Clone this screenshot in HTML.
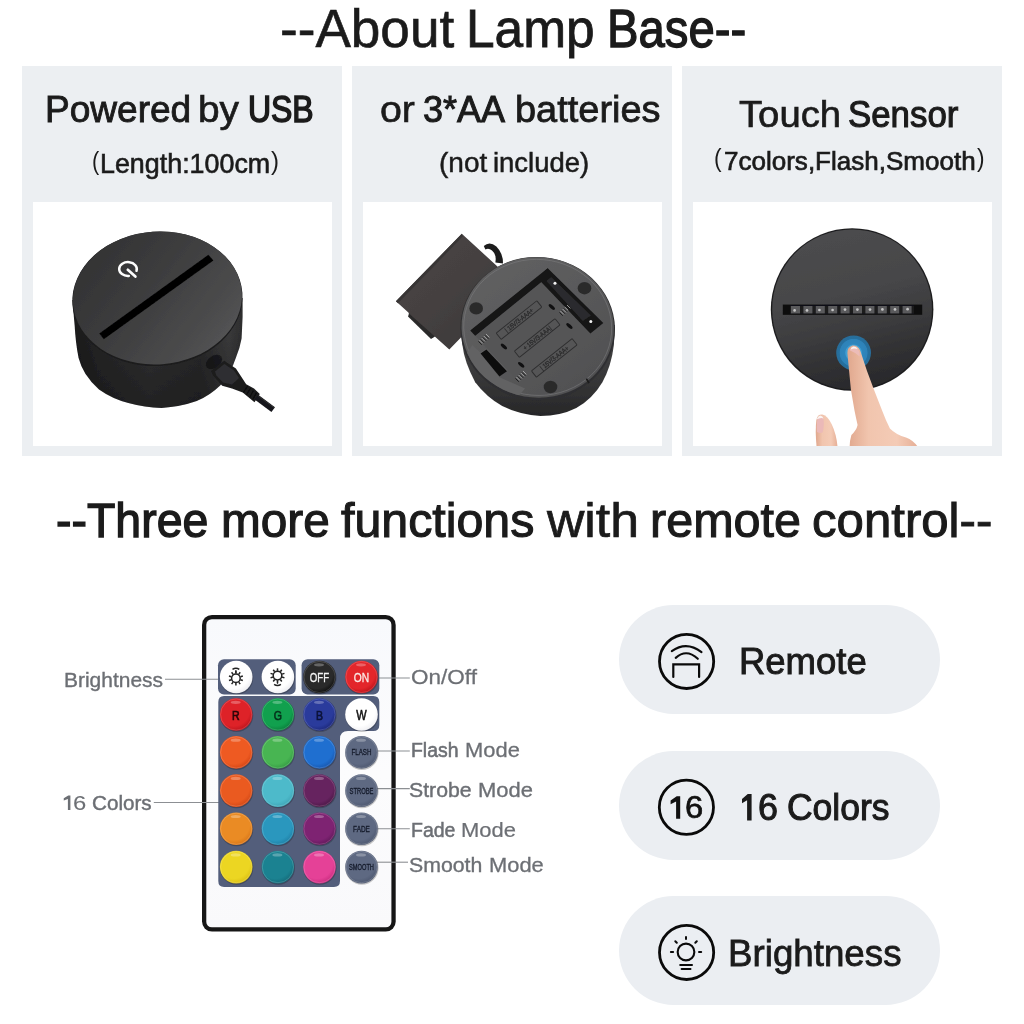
<!DOCTYPE html>
<html lang="en">
<head>
<meta charset="utf-8">
<title>About Lamp Base</title>
<style>
html,body{margin:0;padding:0;background:#fff;}
body{width:1024px;height:1024px;position:relative;overflow:hidden;font-family:"Liberation Sans",sans-serif;}
.t{position:absolute;white-space:pre;transform-origin:0 0;font-family:"Liberation Sans",sans-serif;font-weight:400;}
.panel{position:absolute;top:66px;height:389.5px;background:#eceff2;}
.photo{position:absolute;top:136px;height:244px;background:#fff;overflow:hidden;}
.pill{position:absolute;left:619.25px;width:320.5px;height:109px;border-radius:54.5px;background:#ebeef2;}
svg{position:absolute;left:0;top:0;overflow:visible;will-change:transform;}
</style>
</head>
<body>
<div class="panel" style="left:22px;width:319.5px"><div class="photo" style="left:11px;width:299.25px"><svg width="299.25" height="244" viewBox="33 202 299.25 244">
<defs>
<linearGradient id="p1side" x1="0" y1="0" x2="1" y2="0"><stop offset="0" stop-color="#19191a"/><stop offset="0.15" stop-color="#252526"/><stop offset="0.45" stop-color="#303031"/><stop offset="0.75" stop-color="#29292a"/><stop offset="0.92" stop-color="#3a3a3b"/><stop offset="1" stop-color="#2c2c2d"/></linearGradient>
<linearGradient id="p1top" x1="0" y1="0.15" x2="1" y2="0.85"><stop offset="0" stop-color="#313132"/><stop offset="0.4" stop-color="#3c3c3d"/><stop offset="0.75" stop-color="#4a4a4b"/><stop offset="1" stop-color="#575758"/></linearGradient>
<filter id="p1blur" x="-20%" y="-20%" width="140%" height="140%"><feGaussianBlur stdDeviation="0.6"/></filter>
<filter id="p1blur2" x="-20%" y="-20%" width="140%" height="140%"><feGaussianBlur stdDeviation="0.35"/></filter>
<linearGradient id="p1shade" gradientUnits="userSpaceOnUse" x1="0" y1="330" x2="0" y2="410"><stop offset="0" stop-color="#000" stop-opacity="0"/><stop offset="1" stop-color="#000" stop-opacity="0.3"/></linearGradient>
</defs>
<g filter="url(#p1blur)">
<!-- cylinder side -->
<path d="M72.4 300 L74.6 324.9 Q75.6 343 78.6 358.1 Q81 367 85.4 373.8 Q91 382.6 99 389.4 Q112 398.6 128.4 403 Q145 407.6 161.6 407.9 Q180 407 196.7 401.1 Q210 395.4 220.2 385.5 Q231 373 235.8 358.1 Q240 348 241.6 338.6 L242.6 317.1 L242.6 298 Z" fill="url(#p1side)"/>
<path d="M72.4 300 L74.6 324.9 Q75.6 343 78.6 358.1 Q81 367 85.4 373.8 Q91 382.6 99 389.4 Q112 398.6 128.4 403 Q145 407.6 161.6 407.9 Q180 407 196.7 401.1 Q210 395.4 220.2 385.5 Q231 373 235.8 358.1 Q240 348 241.6 338.6 L242.6 317.1 L242.6 298 Z" fill="url(#p1shade)"/>
<!-- top face -->
<ellipse cx="157.4" cy="298.8" rx="85.2" ry="67.2" transform="rotate(-4 157.4 298.8)" fill="#1d1d1e"/>
<ellipse cx="157.4" cy="297.9" rx="84.6" ry="66.4" transform="rotate(-4 157.4 297.9)" fill="url(#p1top)"/>
<!-- slot -->
<polygon points="99.3,333.4 103.8,339.2 213.4,260.6 208.4,254.8" fill="#050505"/>
<!-- usb plug -->
<ellipse cx="214" cy="362" rx="9" ry="6" fill="#0c0c0d" opacity="0.6" transform="rotate(-35 214 362)"/>
<polygon points="211,371 224.2,360.8 235.9,368.6 240.8,375.9 246.2,384.2 254,388.6 259.8,394 254.5,402.3 242.7,392.5 232,388.6 222.2,385.7 213.4,375.9" fill="#1c1c1e"/>
<polygon points="215,371.4 224.4,364 234,370.4 239,378 232,384.6 223,382.6 216.4,375.6" fill="#2f2f31"/>
<path d="M247.4 386.2 L243.6 392.4 M250.4 388.2 L246.6 394.8 M253.4 390.4 L249.8 397.2 M256.4 392.8 L252.8 399.6" stroke="#070708" stroke-width="1.1" fill="none"/>
<path d="M256.4 397.2 L273.2 409.6" stroke="#19191b" stroke-width="6" stroke-linecap="butt" fill="none"/>
<path d="M257.8 395.6 L274 407.6" stroke="#3a3a3c" stroke-width="1" fill="none" opacity="0.7"/>
</g>
<!-- power icon -->
<g filter="url(#p1blur2)">
<path d="M136.5 270.8 A8.8 6.9 0 1 0 128.8 275.9" fill="none" stroke="#fdfdfd" stroke-width="2.5" stroke-linecap="round"/>
<path d="M127.8 269.8 L135.4 276.6" stroke="#fdfdfd" stroke-width="2.7" stroke-linecap="round" fill="none"/>
</g>
</svg>
</div></div>
<div class="panel" style="left:352px;width:320px"><div class="photo" style="left:10.6px;width:299.4px"><svg width="299.4" height="244" viewBox="362.6 202 299.4 244">
<defs>
<linearGradient id="p2cover" x1="0" y1="0" x2="1" y2="1"><stop offset="0" stop-color="#4a4646"/><stop offset="0.5" stop-color="#444040"/><stop offset="1" stop-color="#393636"/></linearGradient>
<linearGradient id="p2side" x1="0" y1="0" x2="0" y2="1"><stop offset="0" stop-color="#444445"/><stop offset="0.55" stop-color="#39393a"/><stop offset="1" stop-color="#272728"/></linearGradient>
<linearGradient id="p2face" x1="0" y1="0" x2="1" y2="1"><stop offset="0" stop-color="#626263"/><stop offset="0.5" stop-color="#59595a"/><stop offset="1" stop-color="#4d4d4f"/></linearGradient>
<filter id="p2blur" x="-20%" y="-20%" width="140%" height="140%"><feGaussianBlur stdDeviation="0.55"/></filter>
<clipPath id="p2clip"><ellipse cx="537.3" cy="327.4" rx="76.2" ry="70.2" transform="rotate(5 537.3 327.4)"/></clipPath>
</defs>
<g filter="url(#p2blur)">
<!-- hinge tab -->
<path d="M483.4 246 Q489 240.6 496 246.4 Q503 253.6 502.6 263.6 L495 262.4 Q496.4 254.6 491.6 250.4 Q488 247.6 485 249.6 Z" fill="#1c1c1c"/>
<!-- battery cover -->
<polygon points="461.4,233.8 395.5,301.3 408,312.4 409.5,316.3 431.6,338 434.4,336.4 448.9,349.4 514.2,282.3" fill="url(#p2cover)"/>
<polygon points="461.4,233.8 395.5,301.3 397.6,303.2 462.4,236.6" fill="#393636"/>
<polygon points="408.6,313.4 407.6,316.6 430.6,339 434.4,336.4" fill="#2b2929"/>
<!-- base side -->
<path d="M460.6 322 L462 345 Q464 362 474.8 382.2 Q486 397 501.8 406 Q519 414.6 540 416 Q560 416 575.9 408 Q592 399 602 382.2 Q611 366 613.5 345 L614.4 325 Z" fill="url(#p2side)"/>
<!-- face -->
<ellipse cx="537.3" cy="328.6" rx="77.4" ry="71.6" transform="rotate(5 537.3 328.6)" fill="#2f2f30"/>
<ellipse cx="537.3" cy="327.4" rx="76.2" ry="70.2" transform="rotate(5 537.3 327.4)" fill="url(#p2face)"/>
<ellipse cx="537.3" cy="327.4" rx="74" ry="68" transform="rotate(5 537.3 327.4)" fill="none" stroke="#7c7c7d" stroke-width="0.8" opacity="0.7"/>
<!-- compartment -->
<polygon points="547.3,268.3 469.9,330.5 524.7,388.6 602.9,323.1" fill="#555556"/>
<!-- top-left wall -->
<polygon points="547.3,268.3 469.9,330.5 474.8,335.8 550.2,274.4" fill="#131314"/>
<!-- top-right wall -->
<polygon points="547.3,268.3 602.9,323.1 590,333.6 538.4,279.4" fill="#141415"/>
<polygon points="550.8,277 546,281 582.4,321 590.6,315.4" fill="#2c2c2d"/>
<!-- latch area -->
<polygon clip-path="url(#p2clip)" points="472,345 480,352.6 486,348.4 507,370.5 498.5,377 524.7,388.6 519,395 497,398 470,385 460,362" fill="#626263"/>
<polygon points="480.2,353.6 486,349.4 506.6,371.2 499,376.4" fill="#0d0d0e"/>
<!-- pads -->
<ellipse cx="475.8" cy="308.4" rx="6.8" ry="6.2" fill="#2b2b2c"/>
<ellipse cx="584.1" cy="288.2" rx="6.8" ry="6.2" fill="#2b2b2c"/>
<ellipse cx="550.1" cy="387" rx="6.8" ry="6.2" fill="#2b2b2c"/>
<path d="M586 378.6 L588.6 383" stroke="#1a1a1b" stroke-width="1.6"/>
</g>
<!-- battery label outlines -->
<g fill="none" stroke="#2e2e2f" stroke-width="0.95">
<rect x="-26" y="-4" width="52" height="8" rx="0.8" transform="translate(518.6 320.1) rotate(-38.6)"/>
<rect x="-26" y="-4" width="52" height="8" rx="0.8" transform="translate(536.8 338) rotate(-38.6)"/>
<rect x="-26" y="-4" width="52" height="8" rx="0.8" transform="translate(553.9 357.9) rotate(-38.6)"/>
</g>
<g font-family="Liberation Sans, sans-serif" font-size="6.6" fill="#2a2a2b" stroke="#2a2a2b" stroke-width="0.25" text-anchor="middle">
<text transform="translate(520.1 322) rotate(-38.6) scale(0.86 1)">| 15V/3-AAA+</text>
<text transform="translate(538.3 339.9) rotate(-38.6) scale(0.86 1)">+ 15V/3-AAA|</text>
<text transform="translate(555.4 359.8) rotate(-38.6) scale(0.86 1)">| 15V/3-AAA+</text>
</g>
<!-- springs / contacts -->
<g stroke="#b5b5b6" stroke-width="0.9" fill="none" opacity="0.9">
<path d="M479 340 l3.4 3.4 m-1.2 -5.4 l3.4 3.4 m-1.2 -5.4 l3.4 3.4 m-1.2 -5.4 l3.4 3.4"/>
<path d="M516 377 l3.4 3.4 m-1.2 -5.4 l3.4 3.4 m-1.2 -5.4 l3.4 3.4 m-1.2 -5.4 l3.4 3.4"/>
<path d="M560 311 l3.4 3.4 m-1.2 -5.4 l3.4 3.4 m-1.2 -5.4 l3.4 3.4 m-1.2 -5.4 l3.4 3.4"/>
</g>
<g stroke="#1a1a1b" stroke-width="0.9" fill="none">
<path d="M478 341.4 l3.4 3.4 m-1.2 -5.4 l3.4 3.4 m-1.2 -5.4 l3.4 3.4 m-1.2 -5.4 l3.4 3.4"/>
<path d="M515 378.4 l3.4 3.4 m-1.2 -5.4 l3.4 3.4 m-1.2 -5.4 l3.4 3.4 m-1.2 -5.4 l3.4 3.4"/>
<path d="M559 312.4 l3.4 3.4 m-1.2 -5.4 l3.4 3.4 m-1.2 -5.4 l3.4 3.4 m-1.2 -5.4 l3.4 3.4"/>
</g>
<g fill="#101011">
<ellipse cx="503.5" cy="346.5" rx="3.8" ry="1.7" transform="rotate(40 503.5 346.5)"/>
<ellipse cx="520.8" cy="364.8" rx="3.8" ry="1.7" transform="rotate(40 520.8 364.8)"/>
<ellipse cx="551.4" cy="307" rx="3.8" ry="1.7" transform="rotate(40 551.4 307)"/>
<ellipse cx="569" cy="326" rx="3.8" ry="1.7" transform="rotate(40 569 326)"/>
</g>
<circle cx="554.6" cy="283.2" r="1.5" fill="#f4f4f4"/>
<circle cx="590.4" cy="321.4" r="1.5" fill="#f4f4f4"/>
</svg>
</div></div>
<div class="panel" style="left:682px;width:320px"><div class="photo" style="left:11px;width:299px"><svg width="299" height="244" viewBox="693 202 299 244">
<defs>
<linearGradient id="p3disc" x1="0.35" y1="0" x2="0.6" y2="1"><stop offset="0" stop-color="#4c4c4e"/><stop offset="0.4" stop-color="#464648"/><stop offset="0.62" stop-color="#3c3c3e"/><stop offset="0.82" stop-color="#303032"/><stop offset="1" stop-color="#29292b"/></linearGradient>
<radialGradient id="p3btn" cx="0.5" cy="0.5" r="0.5"><stop offset="0" stop-color="#4fb0e0"/><stop offset="0.45" stop-color="#3f9fd4"/><stop offset="0.5" stop-color="#2f86bd"/><stop offset="0.78" stop-color="#2d82b8"/><stop offset="0.82" stop-color="#256f9f"/><stop offset="1" stop-color="#2a6d98"/></radialGradient>
<linearGradient id="p3skin" x1="0" y1="0" x2="1" y2="0"><stop offset="0" stop-color="#e0a78d"/><stop offset="0.3" stop-color="#f1c5ae"/><stop offset="0.7" stop-color="#f4cbb6"/><stop offset="1" stop-color="#e5ae95"/></linearGradient>
<filter id="p3blur" x="-20%" y="-20%" width="140%" height="140%"><feGaussianBlur stdDeviation="0.6"/></filter>
</defs>
<g filter="url(#p3blur)">
<circle cx="852.1" cy="309.5" r="81.3" fill="#1d1d1f"/>
<circle cx="852.1" cy="309.3" r="79.9" fill="url(#p3disc)"/>
<!-- led slot -->
<rect x="782.8" y="304.6" width="139.4" height="10.2" fill="#0b0b0c"/>
<rect x="790" y="305.6" width="124" height="8.2" fill="#1c1c1e"/>
<g fill="#5a5a5c">
<rect x="791" y="306" width="9" height="7.4"/><rect x="803.4" y="306" width="9" height="7.4"/><rect x="815.8" y="306" width="9" height="7.4"/><rect x="828.2" y="306" width="9" height="7.4"/><rect x="840.6" y="306" width="9" height="7.4"/><rect x="853" y="306" width="9" height="7.4"/><rect x="865.4" y="306" width="9" height="7.4"/><rect x="877.8" y="306" width="9" height="7.4"/><rect x="890.2" y="306" width="9" height="7.4"/><rect x="902.6" y="306" width="9" height="7.4"/>
</g>
<g fill="#c4c4c4">
<circle cx="794.6" cy="310.4" r="1.35"/><circle cx="807" cy="310.4" r="1.35"/><circle cx="819.4" cy="310" r="1.35"/><circle cx="832.6" cy="310" r="1.35"/><circle cx="845" cy="309.6" r="1.35"/><circle cx="857.4" cy="309.6" r="1.35"/><circle cx="870" cy="309.6" r="1.35"/><circle cx="882.4" cy="309.4" r="1.35"/><circle cx="895" cy="309.4" r="1.35"/><circle cx="907.6" cy="309.2" r="1.35"/>
</g>
<!-- blue touch button -->
<circle cx="853.6" cy="352.8" r="17.4" fill="url(#p3btn)"/>
<!-- finger shadow -->
<path d="M850.5 352 Q848 362 852 380 L860 420 L872 420 Z" fill="#000" opacity="0.18"/>
<!-- index finger -->
<path d="M847.4 353 Q847 347.4 852.4 345.6 Q857.6 345 860.2 350.4 L867 371 L873.9 389.4 L881.9 410 Q886 421 889.9 428.4 Q896 434.6 906 437.5 Q913 440 918 447 L849.6 447 Q849.8 440 851.4 435 Q856.6 430 857.6 425 Q856 418 854.4 410 L850.9 389.4 L849.1 371 Z" fill="url(#p3skin)"/>
<!-- nail -->
<path d="M850 350.6 Q850.4 346.6 853.8 346.4 Q857.2 347 859.2 351.6 Q860.2 354.6 859.6 356.6 Q855 352.4 850 350.6 Z" fill="#ecbcb8"/>
<path d="M850.6 349.4 Q851 346.8 853.8 346.4 Q856.4 346.8 857.8 349 Q854 347.6 850.6 349.4 Z" fill="#fbf3f1"/>
<!-- thumb -->
<path d="M816.6 447 Q815 430 816.4 420 Q817.4 414.4 822.4 414.6 Q827.6 416 831.6 424 Q836.4 434 837.6 447 Z" fill="url(#p3skin)"/>
<path d="M817 432 Q816 421 818.4 417.4 Q821.4 414.6 823.4 418.6 Q824.6 425 822.6 432.6 Q819.6 433.4 817 432 Z" fill="#ebb9b8"/>
<path d="M816.8 419.6 Q817.6 416.2 820.4 415.6 Q822.6 416 823.6 418.4 Q820 417.4 816.8 419.6 Z" fill="#fbf3f1"/>
</g>
</svg>
</div></div>
<div class="pill" style="top:605.25px"></div>
<div class="pill" style="top:751.4px"></div>
<div class="pill" style="top:896.25px"></div>
<svg width="1024" height="1024" viewBox="0 0 1024 1024">
<defs>
<radialGradient id="b00" cx="0.42" cy="0.36" r="0.7"><stop offset="0" stop-color="#ffffff"/><stop offset="0.7" stop-color="#ffffff"/><stop offset="1" stop-color="#e9e9ee"/></radialGradient>
<radialGradient id="b01" cx="0.42" cy="0.36" r="0.7"><stop offset="0" stop-color="#ffffff"/><stop offset="0.7" stop-color="#ffffff"/><stop offset="1" stop-color="#e9e9ee"/></radialGradient>
<radialGradient id="b02" cx="0.42" cy="0.36" r="0.7"><stop offset="0" stop-color="#2a2a2a"/><stop offset="0.7" stop-color="#2a2a2a"/><stop offset="1" stop-color="#070707"/></radialGradient>
<radialGradient id="b03" cx="0.42" cy="0.36" r="0.7"><stop offset="0" stop-color="#e3262b"/><stop offset="0.7" stop-color="#e3262b"/><stop offset="1" stop-color="#b40d14"/></radialGradient>
<radialGradient id="b10" cx="0.42" cy="0.36" r="0.7"><stop offset="0" stop-color="#de2228"/><stop offset="0.7" stop-color="#de2228"/><stop offset="1" stop-color="#b20f18"/></radialGradient>
<radialGradient id="b11" cx="0.42" cy="0.36" r="0.7"><stop offset="0" stop-color="#11a04e"/><stop offset="0.7" stop-color="#11a04e"/><stop offset="1" stop-color="#087536"/></radialGradient>
<radialGradient id="b12" cx="0.42" cy="0.36" r="0.7"><stop offset="0" stop-color="#2a3b9c"/><stop offset="0.7" stop-color="#2a3b9c"/><stop offset="1" stop-color="#172270"/></radialGradient>
<radialGradient id="b13" cx="0.42" cy="0.36" r="0.7"><stop offset="0" stop-color="#ffffff"/><stop offset="0.7" stop-color="#ffffff"/><stop offset="1" stop-color="#ececf0"/></radialGradient>
<radialGradient id="b20" cx="0.42" cy="0.36" r="0.7"><stop offset="0" stop-color="#ee5a22"/><stop offset="0.7" stop-color="#ee5a22"/><stop offset="1" stop-color="#cf3f10"/></radialGradient>
<radialGradient id="b21" cx="0.42" cy="0.36" r="0.7"><stop offset="0" stop-color="#48b552"/><stop offset="0.7" stop-color="#48b552"/><stop offset="1" stop-color="#2f9440"/></radialGradient>
<radialGradient id="b22" cx="0.42" cy="0.36" r="0.7"><stop offset="0" stop-color="#1f6fd0"/><stop offset="0.7" stop-color="#1f6fd0"/><stop offset="1" stop-color="#154fa4"/></radialGradient>
<radialGradient id="b23" cx="0.42" cy="0.36" r="0.7"><stop offset="0" stop-color="#5e6982"/><stop offset="0.7" stop-color="#5e6982"/><stop offset="1" stop-color="#48526a"/></radialGradient>
<radialGradient id="b30" cx="0.42" cy="0.36" r="0.7"><stop offset="0" stop-color="#ea5a20"/><stop offset="0.7" stop-color="#ea5a20"/><stop offset="1" stop-color="#cc4312"/></radialGradient>
<radialGradient id="b31" cx="0.42" cy="0.36" r="0.7"><stop offset="0" stop-color="#4dbaca"/><stop offset="0.7" stop-color="#4dbaca"/><stop offset="1" stop-color="#3aa0b2"/></radialGradient>
<radialGradient id="b32" cx="0.42" cy="0.36" r="0.7"><stop offset="0" stop-color="#66235f"/><stop offset="0.7" stop-color="#66235f"/><stop offset="1" stop-color="#451440"/></radialGradient>
<radialGradient id="b33" cx="0.42" cy="0.36" r="0.7"><stop offset="0" stop-color="#5e6982"/><stop offset="0.7" stop-color="#5e6982"/><stop offset="1" stop-color="#48526a"/></radialGradient>
<radialGradient id="b40" cx="0.42" cy="0.36" r="0.7"><stop offset="0" stop-color="#ea8b24"/><stop offset="0.7" stop-color="#ea8b24"/><stop offset="1" stop-color="#d47014"/></radialGradient>
<radialGradient id="b41" cx="0.42" cy="0.36" r="0.7"><stop offset="0" stop-color="#2a97be"/><stop offset="0.7" stop-color="#2a97be"/><stop offset="1" stop-color="#1a7aa0"/></radialGradient>
<radialGradient id="b42" cx="0.42" cy="0.36" r="0.7"><stop offset="0" stop-color="#7e2372"/><stop offset="0.7" stop-color="#7e2372"/><stop offset="1" stop-color="#5a1654"/></radialGradient>
<radialGradient id="b43" cx="0.42" cy="0.36" r="0.7"><stop offset="0" stop-color="#5e6982"/><stop offset="0.7" stop-color="#5e6982"/><stop offset="1" stop-color="#48526a"/></radialGradient>
<radialGradient id="b50" cx="0.42" cy="0.36" r="0.7"><stop offset="0" stop-color="#ecd622"/><stop offset="0.7" stop-color="#ecd622"/><stop offset="1" stop-color="#d6ba10"/></radialGradient>
<radialGradient id="b51" cx="0.42" cy="0.36" r="0.7"><stop offset="0" stop-color="#1b8291"/><stop offset="0.7" stop-color="#1b8291"/><stop offset="1" stop-color="#116574"/></radialGradient>
<radialGradient id="b52" cx="0.42" cy="0.36" r="0.7"><stop offset="0" stop-color="#e54197"/><stop offset="0.7" stop-color="#e54197"/><stop offset="1" stop-color="#c4277a"/></radialGradient>
<radialGradient id="b53" cx="0.42" cy="0.36" r="0.7"><stop offset="0" stop-color="#5e6982"/><stop offset="0.7" stop-color="#5e6982"/><stop offset="1" stop-color="#48526a"/></radialGradient>
<linearGradient id="rbody" x1="0" y1="0" x2="0" y2="1"><stop offset="0" stop-color="#f8f9fc"/><stop offset="0.5" stop-color="#fcfcfd"/><stop offset="1" stop-color="#f9f9fb"/></linearGradient>
</defs>
<rect x="202" y="614.9" width="193.7" height="316.7" rx="10" fill="#161616"/>
<rect x="206.3" y="619.2" width="185.1" height="308.1" rx="5.5" fill="url(#rbody)"/>
<g stroke="#8c8f93" stroke-width="1.1" fill="none">
<path d="M165 679.3 H219"/>
<path d="M153.8 802.5 H219"/>
<path d="M377 678 H409.8"/>
<path d="M376.8 751 H409.8"/>
<path d="M377 788.6 H409.8"/>
<path d="M377 828.7 H409.8"/>
<path d="M377 862.2 H408"/>
</g>
<rect x="218" y="659.2" width="77.7" height="35.2" rx="6" fill="#535e7b"/>
<rect x="301.6" y="659.2" width="77.7" height="35.2" rx="6" fill="#535e7b"/>
<path d="M224 696 H373.3 Q379.3 696 379.3 702 V725.1 Q379.3 731.1 373.3 731.1 H348 Q340 731.1 340 739.1 V881 Q340 886.9 334 886.9 H224 Q218.3 886.9 218.3 881 V702 Q218.3 696 224 696 Z" fill="#535e7b"/>
<circle cx="236.6" cy="677.9" r="16.7" fill="#000" opacity="0.22"/>
<circle cx="236.2" cy="677.0" r="16.3" fill="url(#b00)"/>
<circle cx="278.29999999999995" cy="677.9" r="16.7" fill="#000" opacity="0.22"/>
<circle cx="277.9" cy="677.0" r="16.3" fill="url(#b01)"/>
<circle cx="319.9" cy="677.9" r="16.7" fill="#000" opacity="0.22"/>
<circle cx="319.5" cy="677.0" r="16.3" fill="url(#b02)"/>
<circle cx="319.5" cy="677.0" r="15.600000000000001" fill="none" stroke="#fff" stroke-width="1" opacity="0.16"/>
<ellipse cx="319.0" cy="664.8" rx="5" ry="1.6" fill="#fff" opacity="0.28"/>
<circle cx="361.9" cy="677.9" r="16.7" fill="#000" opacity="0.22"/>
<circle cx="361.5" cy="677.0" r="16.3" fill="url(#b03)"/>
<circle cx="361.5" cy="677.0" r="15.600000000000001" fill="none" stroke="#fff" stroke-width="1" opacity="0.16"/>
<ellipse cx="361.0" cy="664.8" rx="5" ry="1.6" fill="#fff" opacity="0.28"/>
<circle cx="236.6" cy="715.4" r="16.7" fill="#000" opacity="0.22"/>
<circle cx="236.2" cy="714.5" r="16.3" fill="url(#b10)"/>
<circle cx="236.2" cy="714.5" r="15.600000000000001" fill="none" stroke="#fff" stroke-width="1" opacity="0.16"/>
<ellipse cx="235.7" cy="702.3" rx="5" ry="1.6" fill="#fff" opacity="0.28"/>
<circle cx="278.29999999999995" cy="715.4" r="16.7" fill="#000" opacity="0.22"/>
<circle cx="277.9" cy="714.5" r="16.3" fill="url(#b11)"/>
<circle cx="277.9" cy="714.5" r="15.600000000000001" fill="none" stroke="#fff" stroke-width="1" opacity="0.16"/>
<ellipse cx="277.4" cy="702.3" rx="5" ry="1.6" fill="#fff" opacity="0.28"/>
<circle cx="319.9" cy="715.4" r="16.7" fill="#000" opacity="0.22"/>
<circle cx="319.5" cy="714.5" r="16.3" fill="url(#b12)"/>
<circle cx="319.5" cy="714.5" r="15.600000000000001" fill="none" stroke="#fff" stroke-width="1" opacity="0.16"/>
<ellipse cx="319.0" cy="702.3" rx="5" ry="1.6" fill="#fff" opacity="0.28"/>
<circle cx="361.9" cy="715.4" r="16.7" fill="#000" opacity="0.22"/>
<circle cx="361.5" cy="714.5" r="16.3" fill="url(#b13)"/>
<circle cx="236.6" cy="753.3" r="16.7" fill="#000" opacity="0.22"/>
<circle cx="236.2" cy="752.4" r="16.3" fill="url(#b20)"/>
<circle cx="236.2" cy="752.4" r="15.600000000000001" fill="none" stroke="#fff" stroke-width="1" opacity="0.16"/>
<ellipse cx="235.7" cy="740.1999999999999" rx="5" ry="1.6" fill="#fff" opacity="0.28"/>
<circle cx="278.29999999999995" cy="753.3" r="16.7" fill="#000" opacity="0.22"/>
<circle cx="277.9" cy="752.4" r="16.3" fill="url(#b21)"/>
<circle cx="277.9" cy="752.4" r="15.600000000000001" fill="none" stroke="#fff" stroke-width="1" opacity="0.16"/>
<ellipse cx="277.4" cy="740.1999999999999" rx="5" ry="1.6" fill="#fff" opacity="0.28"/>
<circle cx="319.9" cy="753.3" r="16.7" fill="#000" opacity="0.22"/>
<circle cx="319.5" cy="752.4" r="16.3" fill="url(#b22)"/>
<circle cx="319.5" cy="752.4" r="15.600000000000001" fill="none" stroke="#fff" stroke-width="1" opacity="0.16"/>
<ellipse cx="319.0" cy="740.1999999999999" rx="5" ry="1.6" fill="#fff" opacity="0.28"/>
<circle cx="361.9" cy="753.3" r="16.7" fill="#000" opacity="0.22"/>
<circle cx="361.5" cy="752.4" r="16.3" fill="url(#b23)"/>
<circle cx="361.5" cy="752.4" r="15.600000000000001" fill="none" stroke="#fff" stroke-width="1" opacity="0.16"/>
<ellipse cx="361.0" cy="740.1999999999999" rx="5" ry="1.6" fill="#fff" opacity="0.28"/>
<circle cx="236.6" cy="791.5" r="16.7" fill="#000" opacity="0.22"/>
<circle cx="236.2" cy="790.6" r="16.3" fill="url(#b30)"/>
<circle cx="236.2" cy="790.6" r="15.600000000000001" fill="none" stroke="#fff" stroke-width="1" opacity="0.16"/>
<ellipse cx="235.7" cy="778.4" rx="5" ry="1.6" fill="#fff" opacity="0.28"/>
<circle cx="278.29999999999995" cy="791.5" r="16.7" fill="#000" opacity="0.22"/>
<circle cx="277.9" cy="790.6" r="16.3" fill="url(#b31)"/>
<circle cx="277.9" cy="790.6" r="15.600000000000001" fill="none" stroke="#fff" stroke-width="1" opacity="0.16"/>
<ellipse cx="277.4" cy="778.4" rx="5" ry="1.6" fill="#fff" opacity="0.28"/>
<circle cx="319.9" cy="791.5" r="16.7" fill="#000" opacity="0.22"/>
<circle cx="319.5" cy="790.6" r="16.3" fill="url(#b32)"/>
<circle cx="319.5" cy="790.6" r="15.600000000000001" fill="none" stroke="#fff" stroke-width="1" opacity="0.16"/>
<ellipse cx="319.0" cy="778.4" rx="5" ry="1.6" fill="#fff" opacity="0.28"/>
<circle cx="361.9" cy="791.5" r="16.7" fill="#000" opacity="0.22"/>
<circle cx="361.5" cy="790.6" r="16.3" fill="url(#b33)"/>
<circle cx="361.5" cy="790.6" r="15.600000000000001" fill="none" stroke="#fff" stroke-width="1" opacity="0.16"/>
<ellipse cx="361.0" cy="778.4" rx="5" ry="1.6" fill="#fff" opacity="0.28"/>
<circle cx="236.6" cy="829.6" r="16.7" fill="#000" opacity="0.22"/>
<circle cx="236.2" cy="828.7" r="16.3" fill="url(#b40)"/>
<circle cx="236.2" cy="828.7" r="15.600000000000001" fill="none" stroke="#fff" stroke-width="1" opacity="0.16"/>
<ellipse cx="235.7" cy="816.5" rx="5" ry="1.6" fill="#fff" opacity="0.28"/>
<circle cx="278.29999999999995" cy="829.6" r="16.7" fill="#000" opacity="0.22"/>
<circle cx="277.9" cy="828.7" r="16.3" fill="url(#b41)"/>
<circle cx="277.9" cy="828.7" r="15.600000000000001" fill="none" stroke="#fff" stroke-width="1" opacity="0.16"/>
<ellipse cx="277.4" cy="816.5" rx="5" ry="1.6" fill="#fff" opacity="0.28"/>
<circle cx="319.9" cy="829.6" r="16.7" fill="#000" opacity="0.22"/>
<circle cx="319.5" cy="828.7" r="16.3" fill="url(#b42)"/>
<circle cx="319.5" cy="828.7" r="15.600000000000001" fill="none" stroke="#fff" stroke-width="1" opacity="0.16"/>
<ellipse cx="319.0" cy="816.5" rx="5" ry="1.6" fill="#fff" opacity="0.28"/>
<circle cx="361.9" cy="829.6" r="16.7" fill="#000" opacity="0.22"/>
<circle cx="361.5" cy="828.7" r="16.3" fill="url(#b43)"/>
<circle cx="361.5" cy="828.7" r="15.600000000000001" fill="none" stroke="#fff" stroke-width="1" opacity="0.16"/>
<ellipse cx="361.0" cy="816.5" rx="5" ry="1.6" fill="#fff" opacity="0.28"/>
<circle cx="236.6" cy="868.0" r="16.7" fill="#000" opacity="0.22"/>
<circle cx="236.2" cy="867.1" r="16.3" fill="url(#b50)"/>
<circle cx="236.2" cy="867.1" r="15.600000000000001" fill="none" stroke="#fff" stroke-width="1" opacity="0.16"/>
<ellipse cx="235.7" cy="854.9" rx="5" ry="1.6" fill="#fff" opacity="0.28"/>
<circle cx="278.29999999999995" cy="868.0" r="16.7" fill="#000" opacity="0.22"/>
<circle cx="277.9" cy="867.1" r="16.3" fill="url(#b51)"/>
<circle cx="277.9" cy="867.1" r="15.600000000000001" fill="none" stroke="#fff" stroke-width="1" opacity="0.16"/>
<ellipse cx="277.4" cy="854.9" rx="5" ry="1.6" fill="#fff" opacity="0.28"/>
<circle cx="319.9" cy="868.0" r="16.7" fill="#000" opacity="0.22"/>
<circle cx="319.5" cy="867.1" r="16.3" fill="url(#b52)"/>
<circle cx="319.5" cy="867.1" r="15.600000000000001" fill="none" stroke="#fff" stroke-width="1" opacity="0.16"/>
<ellipse cx="319.0" cy="854.9" rx="5" ry="1.6" fill="#fff" opacity="0.28"/>
<circle cx="361.9" cy="868.0" r="16.7" fill="#000" opacity="0.22"/>
<circle cx="361.5" cy="867.1" r="16.3" fill="url(#b53)"/>
<circle cx="361.5" cy="867.1" r="15.600000000000001" fill="none" stroke="#fff" stroke-width="1" opacity="0.16"/>
<ellipse cx="361.0" cy="854.9" rx="5" ry="1.6" fill="#fff" opacity="0.28"/>
<text x="0" y="0" transform="translate(319.5,681.8) scale(0.72,1)" text-anchor="middle" font-family="Liberation Sans, sans-serif" font-weight="400" font-size="13.5" fill="#f4f4f4" stroke="#f4f4f4" stroke-width="0.35">OFF</text>
<text x="0" y="0" transform="translate(361.5,681.8) scale(0.76,1)" text-anchor="middle" font-family="Liberation Sans, sans-serif" font-weight="400" font-size="13.5" fill="#fbe9e6" stroke="#fbe9e6" stroke-width="0.35">ON</text>
<text x="0" y="0" transform="translate(235.7,719.5) scale(0.78,1)" text-anchor="middle" font-family="Liberation Sans, sans-serif" font-weight="400" font-size="13.5" fill="#2a0608" stroke="#2a0608" stroke-width="0.7">R</text>
<text x="0" y="0" transform="translate(277.9,719.5) scale(0.78,1)" text-anchor="middle" font-family="Liberation Sans, sans-serif" font-weight="400" font-size="13.5" fill="#04301a" stroke="#04301a" stroke-width="0.7">G</text>
<text x="0" y="0" transform="translate(319.5,719.5) scale(0.78,1)" text-anchor="middle" font-family="Liberation Sans, sans-serif" font-weight="400" font-size="13.5" fill="#0b1238" stroke="#0b1238" stroke-width="0.7">B</text>
<text x="0" y="0" transform="translate(361.5,719.9) scale(0.76,1)" text-anchor="middle" font-family="Liberation Sans, sans-serif" font-weight="400" font-size="14.5" fill="#111" stroke="#111" stroke-width="0.6">W</text>
<text x="0" y="0" transform="translate(361.5,755.4) scale(0.72,1)" text-anchor="middle" font-family="Liberation Sans, sans-serif" font-weight="400" font-size="8.6" fill="#141a2a" stroke="#141a2a" stroke-width="0.3">FLASH</text>
<text x="0" y="0" transform="translate(361.5,793.6) scale(0.68,1)" text-anchor="middle" font-family="Liberation Sans, sans-serif" font-weight="400" font-size="8.6" fill="#141a2a" stroke="#141a2a" stroke-width="0.3">STROBE</text>
<text x="0" y="0" transform="translate(361.5,831.7) scale(0.75,1)" text-anchor="middle" font-family="Liberation Sans, sans-serif" font-weight="400" font-size="8.6" fill="#141a2a" stroke="#141a2a" stroke-width="0.3">FADE</text>
<text x="0" y="0" transform="translate(361.5,870.1) scale(0.66,1)" text-anchor="middle" font-family="Liberation Sans, sans-serif" font-weight="400" font-size="8.6" fill="#141a2a" stroke="#141a2a" stroke-width="0.3">SMOOTH</text>
<g stroke="#222" fill="none" stroke-linecap="butt"><circle cx="235.89999999999998" cy="678.2" r="4.3" stroke-width="1.5"/><path d="M240.47 679.68 L242.84 680.46" stroke-width="1.5"/><path d="M238.72 682.08 L240.19 684.11" stroke-width="1.5"/><path d="M235.90 683.00 L235.90 685.50" stroke-width="1.5"/><path d="M233.08 682.08 L231.61 684.11" stroke-width="1.5"/><path d="M231.33 679.68 L228.96 680.46" stroke-width="1.5"/><path d="M231.33 676.72 L228.96 675.94" stroke-width="1.5"/><path d="M233.08 674.32 L231.61 672.29" stroke-width="1.5"/><path d="M235.90 673.40 L235.90 670.90" stroke-width="1.5"/><path d="M238.72 674.32 L240.19 672.29" stroke-width="1.5"/><path d="M240.47 676.72 L242.84 675.94" stroke-width="1.5"/><path d="M235.89999999999998 673.2 L235.89999999999998 670.0" stroke-width="1.2"/><path d="M232.49999999999997 669.4000000000001 Q235.89999999999998 667.0 239.29999999999998 669.4000000000001" stroke-width="1.5"/></g>
<g stroke="#222" fill="none" stroke-linecap="butt"><circle cx="277.5" cy="675.6" r="4.3" stroke-width="1.5"/><path d="M282.07 677.08 L284.44 677.86" stroke-width="1.5"/><path d="M280.32 679.48 L281.79 681.51" stroke-width="1.5"/><path d="M277.50 680.40 L277.50 682.90" stroke-width="1.5"/><path d="M274.68 679.48 L273.21 681.51" stroke-width="1.5"/><path d="M272.93 677.08 L270.56 677.86" stroke-width="1.5"/><path d="M272.93 674.12 L270.56 673.34" stroke-width="1.5"/><path d="M274.68 671.72 L273.21 669.69" stroke-width="1.5"/><path d="M277.50 670.80 L277.50 668.30" stroke-width="1.5"/><path d="M280.32 671.72 L281.79 669.69" stroke-width="1.5"/><path d="M282.07 674.12 L284.44 673.34" stroke-width="1.5"/><path d="M277.5 680.6 L277.5 683.8000000000001" stroke-width="1.2"/><path d="M274.1 684.4 Q277.5 686.8000000000001 280.9 684.4" stroke-width="1.5"/></g>
</svg>
<svg width="1024" height="1024" viewBox="0 0 1024 1024" fill="none" stroke="#0a0a0a" stroke-linecap="round">
<!-- remote icon -->
<circle cx="686.6" cy="661.4" r="27.1" stroke-width="2.8"/>
<path d="M671.8 651.2 Q686.4 640.6 701.5 652.1" stroke-width="2.1"/>
<path d="M675.7 657.9 Q686.4 648.2 697.8 658.8" stroke-width="2.1"/>
<path d="M673.3 677 V664.4 H699.1 V677" stroke-width="2.2" stroke-linejoin="miter"/>
<!-- 16 icon -->
<circle cx="686.4" cy="807.25" r="27.1" stroke-width="2.8"/>
<!-- bulb icon -->
<circle cx="686.6" cy="952.4" r="27.1" stroke-width="2.8"/>
<circle cx="686" cy="952" r="8.35" stroke-width="2.1"/>
<g stroke-width="2">
<path d="M686 937.1 V938.9"/>
<path d="M670.9 952 H673.1"/>
<path d="M699 952 H701.2"/>
<path d="M675.3 941.3 L676.8 942.8"/>
<path d="M696.8 941.3 L695.3 942.8"/>
<path d="M680.2 965.1 H692"/>
<path d="M681.6 968.9 H690.5"/>
</g>
</svg>

<div class="t h1" style="left:279.69px;top:1.70px;font-size:53.87px;line-height:53.87px;color:#1b1b1b;-webkit-text-stroke:0.63px #1b1b1b;transform:scaleX(0.9864)">--About</div>
<div class="t h1" style="left:466.27px;top:1.83px;font-size:53.60px;line-height:53.60px;color:#1b1b1b;-webkit-text-stroke:0.81px #1b1b1b;transform:scaleX(0.9600)">Lamp</div>
<div class="t h1" style="left:606.81px;top:3.04px;font-size:52.87px;line-height:52.87px;color:#1b1b1b;-webkit-text-stroke:1.32px #1b1b1b;transform:scaleX(0.8942)">Base--</div>
<div class="t pt" style="left:44.78px;top:90.79px;font-size:37.40px;line-height:37.40px;color:#1b1b1b;-webkit-text-stroke:0.89px #1b1b1b;transform:scaleX(0.9908)">Powered</div>
<div class="t pt" style="left:197.74px;top:90.65px;font-size:37.69px;line-height:37.69px;color:#1b1b1b;-webkit-text-stroke:0.69px #1b1b1b;transform:scaleX(1.0311)">by</div>
<div class="t pt" style="left:247.63px;top:91.91px;font-size:36.43px;line-height:36.43px;color:#1b1b1b;-webkit-text-stroke:1.56px #1b1b1b;transform:scaleX(0.8768)">USB</div>
<div class="t ps" style="left:99.86px;top:150.98px;font-size:26.93px;line-height:26.93px;color:#1b1b1b;-webkit-text-stroke:0.62px #1b1b1b;transform:scaleX(0.9975)">Length:100cm</div>
<div class="t pt" style="left:379.96px;top:90.61px;font-size:37.76px;line-height:37.76px;color:#1b1b1b;-webkit-text-stroke:0.64px #1b1b1b;transform:scaleX(1.0411)">or</div>
<div class="t pt" style="left:423.25px;top:90.88px;font-size:37.23px;line-height:37.23px;color:#1b1b1b;-webkit-text-stroke:1.01px #1b1b1b;transform:scaleX(0.9680)">3*AA</div>
<div class="t pt" style="left:515.15px;top:90.72px;font-size:37.55px;line-height:37.55px;color:#1b1b1b;-webkit-text-stroke:0.79px #1b1b1b;transform:scaleX(1.0104)">batteries</div>
<div class="t ps" style="left:438.75px;top:149.85px;font-size:26.88px;line-height:26.88px;color:#1b1b1b;-webkit-text-stroke:0.45px #1b1b1b;transform:scaleX(1.0427)">(not</div>
<div class="t ps" style="left:493.04px;top:149.89px;font-size:26.79px;line-height:26.79px;color:#1b1b1b;-webkit-text-stroke:0.52px #1b1b1b;transform:scaleX(1.0243)">include)</div>
<div class="t pt" style="left:738.59px;top:95.90px;font-size:37.12px;line-height:37.12px;color:#1b1b1b;-webkit-text-stroke:0.68px #1b1b1b;transform:scaleX(1.0304)">Touch</div>
<div class="t pt" style="left:848.27px;top:96.79px;font-size:36.55px;line-height:36.55px;color:#1b1b1b;-webkit-text-stroke:1.08px #1b1b1b;transform:scaleX(0.9530)">Sensor</div>
<div class="t ps" style="left:724.04px;top:147.68px;font-size:26.67px;line-height:26.67px;color:#1b1b1b;-webkit-text-stroke:0.69px #1b1b1b;transform:scaleX(0.9761)">7colors,Flash,Smooth</div>
<div class="t h2" style="left:56.28px;top:495.97px;font-size:48.08px;line-height:48.08px;color:#1b1b1b;-webkit-text-stroke:1.32px #1b1b1b;transform:scaleX(0.9663)">--Three</div>
<div class="t h2" style="left:220.99px;top:495.86px;font-size:48.30px;line-height:48.30px;color:#1b1b1b;-webkit-text-stroke:1.17px #1b1b1b;transform:scaleX(0.9881)">more</div>
<div class="t h2" style="left:340.57px;top:495.81px;font-size:48.40px;line-height:48.40px;color:#1b1b1b;-webkit-text-stroke:1.10px #1b1b1b;transform:scaleX(0.9986)">functions</div>
<div class="t h2" style="left:547.39px;top:495.54px;font-size:48.93px;line-height:48.93px;color:#1b1b1b;-webkit-text-stroke:0.74px #1b1b1b;transform:scaleX(1.0573)">with</div>
<div class="t h2" style="left:649.64px;top:495.79px;font-size:48.44px;line-height:48.44px;color:#1b1b1b;-webkit-text-stroke:1.08px #1b1b1b;transform:scaleX(1.0024)">remote</div>
<div class="t h2" style="left:811.55px;top:495.74px;font-size:48.54px;line-height:48.54px;color:#1b1b1b;-webkit-text-stroke:1.01px #1b1b1b;transform:scaleX(1.0128)">control--</div>
<div class="t rl" style="left:64.00px;top:669.82px;font-size:20.15px;line-height:20.15px;color:#6c6f74;-webkit-text-stroke:0.35px #6c6f74;transform:scaleX(1.0403)">Brightness</div>
<div class="t rl" style="left:72.77px;top:792.67px;font-size:20.85px;line-height:20.85px;color:#6c6f74;-webkit-text-stroke:0.11px #6c6f74;transform:scaleX(1.1439)">6</div>
<div class="t rl" style="left:92.18px;top:792.90px;font-size:20.40px;line-height:20.40px;color:#6c6f74;-webkit-text-stroke:0.43px #6c6f74;transform:scaleX(1.0124)">Colors</div>
<div class="t rl" style="left:410.92px;top:666.78px;font-size:20.92px;line-height:20.92px;color:#6c6f74;-webkit-text-stroke:0.26px #6c6f74;transform:scaleX(1.0773)">On/Off</div>
<div class="t rl" style="left:411.11px;top:739.96px;font-size:20.07px;line-height:20.07px;color:#6c6f74;-webkit-text-stroke:0.55px #6c6f74;transform:scaleX(0.9675)">Flash</div>
<div class="t rl" style="left:464.89px;top:739.76px;font-size:20.47px;line-height:20.47px;color:#6c6f74;-webkit-text-stroke:0.27px #6c6f74;transform:scaleX(1.0714)">Mode</div>
<div class="t rl" style="left:409.45px;top:779.57px;font-size:20.85px;line-height:20.85px;color:#6c6f74;-webkit-text-stroke:0.41px #6c6f74;transform:scaleX(1.0195)">Strobe</div>
<div class="t rl" style="left:478.12px;top:779.52px;font-size:20.96px;line-height:20.96px;color:#6c6f74;-webkit-text-stroke:0.34px #6c6f74;transform:scaleX(1.0475)">Mode</div>
<div class="t rl" style="left:410.58px;top:820.55px;font-size:19.74px;line-height:19.74px;color:#6c6f74;-webkit-text-stroke:0.48px #6c6f74;transform:scaleX(0.9879)">Fade</div>
<div class="t rl" style="left:461.06px;top:819.79px;font-size:20.12px;line-height:20.12px;color:#6c6f74;-webkit-text-stroke:0.22px #6c6f74;transform:scaleX(1.0916)">Mode</div>
<div class="t rl" style="left:409.42px;top:854.80px;font-size:20.50px;line-height:20.50px;color:#6c6f74;-webkit-text-stroke:0.36px #6c6f74;transform:scaleX(1.0378)">Smooth</div>
<div class="t rl" style="left:488.71px;top:854.75px;font-size:20.59px;line-height:20.59px;color:#6c6f74;-webkit-text-stroke:0.29px #6c6f74;transform:scaleX(1.0630)">Mode</div>
<div class="t pl" style="left:738.79px;top:643.14px;font-size:37.19px;line-height:37.19px;color:#1b1b1b;-webkit-text-stroke:0.94px #1b1b1b;transform:scaleX(0.9812)">Remote</div>
<div class="t pl" style="left:758.44px;top:788.57px;font-size:37.09px;line-height:37.09px;color:#1b1b1b;-webkit-text-stroke:1.01px #1b1b1b;transform:scaleX(0.9685)">6</div>
<div class="t pl" style="left:786.99px;top:788.61px;font-size:37.00px;line-height:37.00px;color:#1b1b1b;-webkit-text-stroke:1.07px #1b1b1b;transform:scaleX(0.9577)">Colors</div>
<div class="t pl" style="left:728.45px;top:935.73px;font-size:36.35px;line-height:36.35px;color:#1b1b1b;-webkit-text-stroke:0.77px #1b1b1b;transform:scaleX(1.0109)">Brightness</div>
<div class="t ic" style="left:685.33px;top:792.38px;font-size:31.73px;line-height:31.73px;color:#111;-webkit-text-stroke:0.71px #111;transform:scaleX(1.0325)">6</div>
<div class="t" style="left:91.80px;top:148.79px;font-size:25.90px;line-height:25.90px;color:#1b1b1b;transform:scaleX(0.8389)">(</div>
<div class="t" style="left:271.26px;top:148.79px;font-size:25.90px;line-height:25.90px;color:#1b1b1b;transform:scaleX(0.9280)">)</div>
<div class="t" style="left:714.24px;top:145.91px;font-size:25.74px;line-height:25.74px;color:#1b1b1b;transform:scaleX(0.8814)">(</div>
<div class="t" style="left:977.37px;top:145.91px;font-size:25.74px;line-height:25.74px;color:#1b1b1b;transform:scaleX(0.8814)">)</div>
<svg width="1024" height="1024" viewBox="0 0 1024 1024"><polygon fill="#6c6f74" points="70.40,795.50 68.28,795.50 63.75,798.25 63.75,800.55 67.90,798.91 67.90,810.00 70.40,810.00"/><polygon fill="#1b1b1b" points="751.60,794.00 747.77,794.00 742.00,799.05 742.00,803.19 747.10,800.25 747.10,820.60 751.60,820.60"/><polygon fill="#111" points="680.20,796.20 676.72,796.20 670.60,800.49 670.60,804.27 676.10,801.51 676.10,818.80 680.20,818.80"/></svg>
</body>
</html>
